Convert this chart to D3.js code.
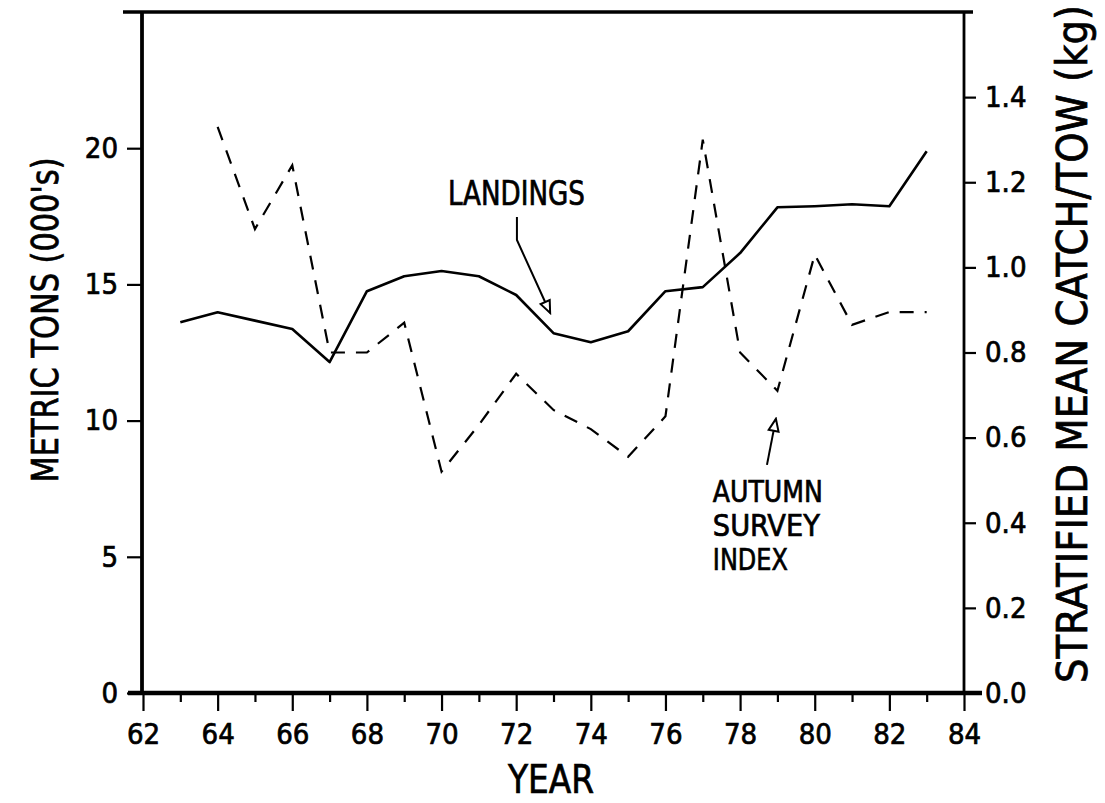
<!DOCTYPE html>
<html>
<head>
<meta charset="utf-8">
<script src="https://cdn.jsdelivr.net/npm/d3@7"></script>
<style>
  html, body { margin: 0; padding: 0; background: #fff; }
  svg { display: block; }
  text { font-family: 'DejaVu Sans Condensed', 'DejaVu Sans', sans-serif; font-stretch: condensed; fill: #000; stroke: #000; stroke-width: 0.7px; }
</style>
</head>
<body>
<svg id="chart" width="1105" height="803"></svg>
<script>
// Landings (thousands of metric tons), 1963-1983
const landingYears = [63, 64, 65, 66, 67, 68, 69, 70, 71, 72, 73, 74, 75, 76, 77, 78, 79, 80, 81, 82, 83];
const landings = [13.61, 13.98, 13.67, 13.36, 12.15, 14.75, 15.30, 15.49, 15.30, 14.61, 13.21,
                  12.88, 13.28, 14.75, 14.90, 16.15, 17.83, 17.87, 17.94, 17.87, 19.89];

// Autumn survey index, stratified mean catch per tow (kg), 1964-1983
const surveyYears = [64, 65, 66, 67, 68, 69, 70, 71, 72, 73, 74, 75, 76, 77, 78, 79, 80, 81, 82, 83];
const surveyIndex = [1.33, 1.09, 1.24, 0.80, 0.80, 0.87, 0.52, 0.63, 0.75, 0.665,
                     0.62, 0.555, 0.65, 1.30, 0.80, 0.71, 1.03, 0.865, 0.895, 0.895];

// Tick values
const yearTicks = [62, 64, 66, 68, 70, 72, 74, 76, 78, 80, 82, 84];
const yearMinorTicks = [63, 65, 67, 69, 71, 73, 75, 77, 79, 81, 83];
const tonTicks = [0, 5, 10, 15, 20];
const catchTicks = [0, 0.2, 0.4, 0.6, 0.8, 1.0, 1.2, 1.4];

// Text
const xTitle = "YEAR";
const yLeftTitle = "METRIC TONS (000's)";
const yRightTitle = "STRATIFIED MEAN CATCH/TOW (kg)";
const landingsLabel = ["LANDINGS"];
const surveyLabel = ["AUTUMN", "SURVEY", "INDEX"];

const svg = d3.select("#chart");

const x = d3.scaleLinear().domain([62, 84]).range([143, 964]);
const yL = d3.scaleLinear().domain([0, 25]).range([693, 12]);
const yR = d3.scaleLinear().domain([0, 1.6]).range([693, 12]);

const tickFont = 29;

// ---- axes ----
const gx = svg.append("g").attr("transform", `translate(0,${yL(0)})`)
  .call(d3.axisBottom(x).tickValues(yearTicks).tickSize(18).tickPadding(12).tickSizeOuter(0));
const gxm = svg.append("g").attr("transform", `translate(0,${yL(0)})`)
  .call(d3.axisBottom(x).tickValues(yearMinorTicks).tickSize(9).tickFormat("").tickSizeOuter(0));

const gyl = svg.append("g").attr("transform", `translate(${x(62) - 1},0)`)
  .call(d3.axisLeft(yL).tickValues(tonTicks).tickSize(15).tickPadding(9).tickSizeOuter(0));

const gyr = svg.append("g").attr("transform", `translate(${x(84)},0)`)
  .call(d3.axisRight(yR).tickValues(catchTicks).tickFormat(d3.format(".1f"))
        .tickSize(12).tickPadding(9).tickSizeOuter(0));

[gx, gxm, gyl, gyr].forEach(g => {
  g.select(".domain").remove();
  g.selectAll(".tick line").attr("stroke", "#000").attr("stroke-width", 2.2);
  g.selectAll(".tick text").attr("font-size", tickFont).attr("fill", "#000")
    .style("font-family", "'DejaVu Sans Condensed', 'DejaVu Sans', sans-serif");
});

// ---- frame ----
const frame = svg.append("g").attr("stroke", "#000").attr("fill", "none");
frame.append("line").attr("x1", x(62) - 15).attr("x2", x(84) + 18)
  .attr("y1", yL(0)).attr("y2", yL(0)).attr("stroke-width", 4.5);
frame.append("line").attr("x1", x(62) - 1).attr("x2", x(62) - 1)
  .attr("y1", yL(25)).attr("y2", yL(0)).attr("stroke-width", 3.8);
frame.append("line").attr("x1", x(84)).attr("x2", x(84))
  .attr("y1", yL(25)).attr("y2", yL(0)).attr("stroke-width", 2.8);
frame.append("line").attr("x1", x(62) - 20).attr("x2", x(84) + 9)
  .attr("y1", yL(25)).attr("y2", yL(25)).attr("stroke-width", 3.4);

// ---- series ----
const landData = landingYears.map((yr, i) => ({ yr, v: landings[i] }));
const survData = surveyYears.map((yr, i) => ({ yr, v: surveyIndex[i] }));

svg.append("path").datum(landData)
  .attr("fill", "none").attr("stroke", "#000").attr("stroke-width", 2.6)
  .attr("stroke-linejoin", "round")
  .attr("d", d3.line().x(d => x(d.yr)).y(d => yL(d.v)));

svg.append("path").datum(survData)
  .attr("fill", "none").attr("stroke", "#000").attr("stroke-width", 2.2)
  .attr("stroke-dasharray", "14,11")
  .attr("d", d3.line().x(d => x(d.yr)).y(d => yR(d.v)));

// ---- annotations ----
const defs = svg.append("defs");
defs.append("marker").attr("id", "openHead")
  .attr("markerUnits", "userSpaceOnUse")
  .attr("viewBox", "-14 -7 16 14").attr("refX", 0).attr("refY", 0)
  .attr("markerWidth", 16).attr("markerHeight", 14).attr("orient", "auto")
  .append("path").attr("d", "M0,0 L-12,-5 L-12,5 Z")
  .attr("fill", "#fff").attr("stroke", "#000").attr("stroke-width", 2);

const leader = d3.line().x(d => x(d[0]));

// Landings label and pointer
svg.append("text").attr("x", x(70.17)).attr("y", yL(17.91))
  .attr("font-size", 33).attr("textLength", 137).attr("lengthAdjust", "spacingAndGlyphs")
  .text(landingsLabel[0]);
svg.append("path")
  .attr("d", leader.y(d => yL(d[1]))([[72.02, 17.47], [72.02, 16.63], [72.91, 13.95]]))
  .attr("fill", "none").attr("stroke", "#000").attr("stroke-width", 2)
  .attr("marker-end", "url(#openHead)");

// Survey label and pointer
const surveyLabelWidths = [110, 107, 75];
surveyLabel.forEach((t, i) => {
  svg.append("text").attr("x", x(77.27)).attr("y", yR(0.449) + i * 34)
    .attr("font-size", 31).attr("textLength", surveyLabelWidths[i]).attr("lengthAdjust", "spacingAndGlyphs")
    .text(t);
});
svg.append("path")
  .attr("d", leader.y(d => yR(d[1]))([[78.72, 0.536], [78.96, 0.644]]))
  .attr("fill", "none").attr("stroke", "#000").attr("stroke-width", 2)
  .attr("marker-end", "url(#openHead)");

// ---- axis titles ----
svg.append("text").attr("x", 551).attr("y", 793).attr("text-anchor", "middle")
  .attr("font-size", 39).attr("textLength", 86).attr("lengthAdjust", "spacingAndGlyphs")
  .text(xTitle);

svg.append("text").attr("transform", "translate(58,320) rotate(-90)")
  .attr("text-anchor", "middle").attr("font-size", 38)
  .attr("textLength", 325).attr("lengthAdjust", "spacingAndGlyphs")
  .text(yLeftTitle);

svg.append("text").attr("transform", "translate(1087,344) rotate(-90)")
  .attr("text-anchor", "middle").attr("font-size", 42)
  .attr("textLength", 678).attr("lengthAdjust", "spacingAndGlyphs")
  .text(yRightTitle);
</script>
</body>
</html>
